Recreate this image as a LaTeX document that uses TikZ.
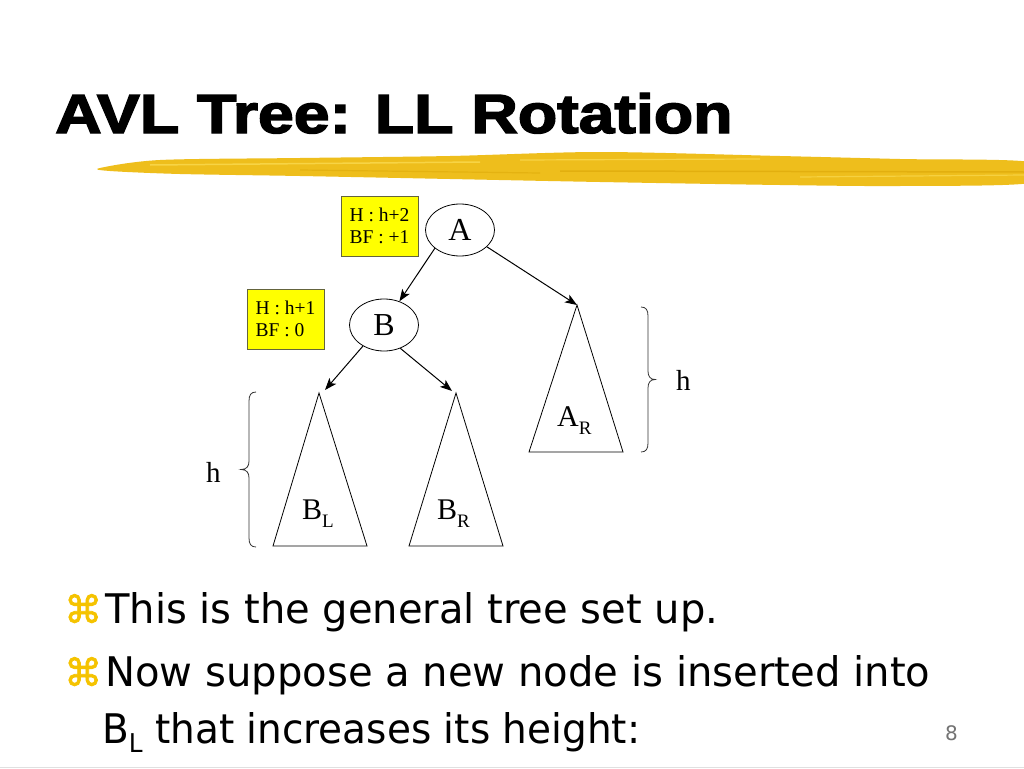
\documentclass[tikz,border=0pt]{standalone}
\usepackage{fontspec}
\setmainfont{Liberation Serif}
\newfontfamily\titlefont{Liberation Sans}[BoldFeatures={FakeBold=2.5}]
\newfontfamily\bodyfont{DejaVu Sans}
\newfontfamily\bulletfont{DejaVu Sans}[FakeBold=2]
\usetikzlibrary{arrows.meta,shapes.geometric}
\definecolor{brush}{RGB}{238,190,28}
\definecolor{brushlt}{RGB}{250,218,80}
\definecolor{brushdk}{RGB}{222,170,10}
\definecolor{bulletc}{RGB}{245,195,0}
\definecolor{boxyellow}{RGB}{255,255,0}
\definecolor{boxedge}{RGB}{100,100,60}
\begin{document}
\begin{tikzpicture}[x=1pt,y=-1pt,
  treenode/.style={ellipse, draw, line width=0.8pt, minimum width=69pt, minimum height=52pt, inner sep=0pt, font=\fontsize{32}{32}\selectfont},
  infobox/.style={draw=boxedge, fill=boxyellow, line width=0.8pt, minimum width=77pt, minimum height=60pt, inner sep=0pt, font=\fontsize{19.5}{22}\selectfont, align=left},
  conn/.style={-{Stealth[length=12pt,width=9pt,inset=3pt]}, line width=1pt},
  subtree/.style={draw, line width=0.8pt},
  sublabel/.style={anchor=base west, inner sep=0pt, font=\fontsize{30}{30}\selectfont},
  hlabel/.style={anchor=base west, inner sep=0pt, font=\fontsize{29}{29}\selectfont},
  bracestyle/.style={draw=black!80, line width=0.8pt},
  bulletmark/.style={anchor=base west, inner sep=0pt, text=bulletc, font=\bulletfont\fontsize{38}{38}\selectfont},
  bodyline/.style={anchor=base west, inner sep=0pt}
]
\fill[white] (0,0) rectangle (1024,768);
\useasboundingbox (0,0) rectangle (1024,768);

% title
\node[anchor=base west, inner sep=0pt] (title) at (55,133)
  {\resizebox{677pt}{40pt}{\titlefont\bfseries AVL Tree: LL Rotation}};

% brush stroke
\begin{scope}
\clip (0,0) rectangle (1024,768);
\fill[brush] plot[smooth cycle, tension=0.5] coordinates {
  (100,168) (160,160) (300,158) (450,156) (600,152) (780,156) (900,159) (1030,162)
  (1030,183) (900,186) (780,185) (600,182) (450,179) (300,176) (180,174) (110,171)};
\draw[brushlt, line width=1.5pt, opacity=0.8] (150,165) -- (480,162);
\draw[brushlt, line width=1.2pt, opacity=0.8] (520,160) -- (760,159);
\draw[brushlt, line width=1.2pt, opacity=0.7] (800,177) -- (1024,175);
\draw[brushdk, line width=1.5pt, opacity=0.7] (560,171) -- (1024,172);
\draw[brushdk, line width=1.2pt, opacity=0.6] (300,170) -- (540,173);
\end{scope}

% info boxes
\node[infobox] (infoA) at (379.5,226) {H : h+2\\BF : +1};
\node[infobox] (infoB) at (285.5,319) {H : h+1\\BF : 0};

% tree nodes
\node[treenode] (A) at (460,230) {A};
\node[treenode] (B) at (384,325) {B};

% subtrees
\coordinate (ARtop) at (577,305);
\coordinate (ARl) at (529,452);
\coordinate (ARr) at (623,452);
\coordinate (BLtop) at (319,393);
\coordinate (BLl) at (273,546);
\coordinate (BLr) at (367,546);
\coordinate (BRtop) at (456,393);
\coordinate (BRl) at (409,546);
\coordinate (BRr) at (503,546);
\coordinate (BLin) at (325,390);
\coordinate (BRin) at (452,391);
\draw[subtree] (ARtop) -- (ARl) -- (ARr) -- cycle;
\draw[subtree] (BLtop) -- (BLl) -- (BLr) -- cycle;
\draw[subtree] (BRtop) -- (BRl) -- (BRr) -- cycle;

\node[sublabel] (ARlab) at (557,426) {A\raisebox{-8pt}{\fontsize{19}{19}\selectfont R}};
\node[sublabel] (BLlab) at (302,519) {B\raisebox{-8pt}{\fontsize{19}{19}\selectfont L}};
\node[sublabel] (BRlab) at (437,519) {B\raisebox{-8pt}{\fontsize{19}{19}\selectfont R}};

% connectors
\draw[conn] (A.216) -- (B.57);
\draw[conn] (A.328) -- (ARtop);
\draw[conn] (B.225) -- (BLin);
\draw[conn] (B.305) -- (BRin);

% braces
\draw[bracestyle] (641,307) .. controls (646,307) and (648,310) .. (648,316) -- (648,371)
  .. controls (648,376) and (650,379.5) .. (655,379.5)
  .. controls (650,379.5) and (648,383) .. (648,388) -- (648,443)
  .. controls (648,449) and (646,452) .. (641,452);
\draw[bracestyle] (256,392) .. controls (251,392) and (249,395) .. (249,401) -- (249,461)
  .. controls (249,466) and (247,469.5) .. (241,469.5)
  .. controls (247,469.5) and (249,473) .. (249,478) -- (249,538)
  .. controls (249,544) and (251,547) .. (256,547);
\node[hlabel] (hR) at (676,390) {h};
\node[hlabel] (hL) at (206,482) {h};

% bullet text
\node[bulletmark] (bul1) at (64,623) {⌘};
\node[bodyline] (line1) at (105,623) {\resizebox{613pt}{31pt}{\bodyfont\fontsize{41}{41}\selectfont This is the general tree set up.}};
\node[bulletmark] (bul2) at (64,686) {⌘};
\node[bodyline] (line2) at (105,686) {\resizebox{825pt}{31pt}{\bodyfont\fontsize{41}{41}\selectfont Now suppose a new node is inserted into}};
\node[bodyline] (line3) at (102,743) {\resizebox{538pt}{31pt}{\bodyfont\fontsize{41}{41}\selectfont B\raisebox{-10pt}{\fontsize{26}{26}\selectfont L} that increases its height:}};

% page number and bottom rule
\node[anchor=base west, inner sep=0pt, text=black!55, font=\bodyfont\fontsize{20}{20}\selectfont] (pnum) at (945,740) {8};
\draw[black!12, line width=1pt] (0,767) -- (1024,767);
\end{tikzpicture}
\end{document}
